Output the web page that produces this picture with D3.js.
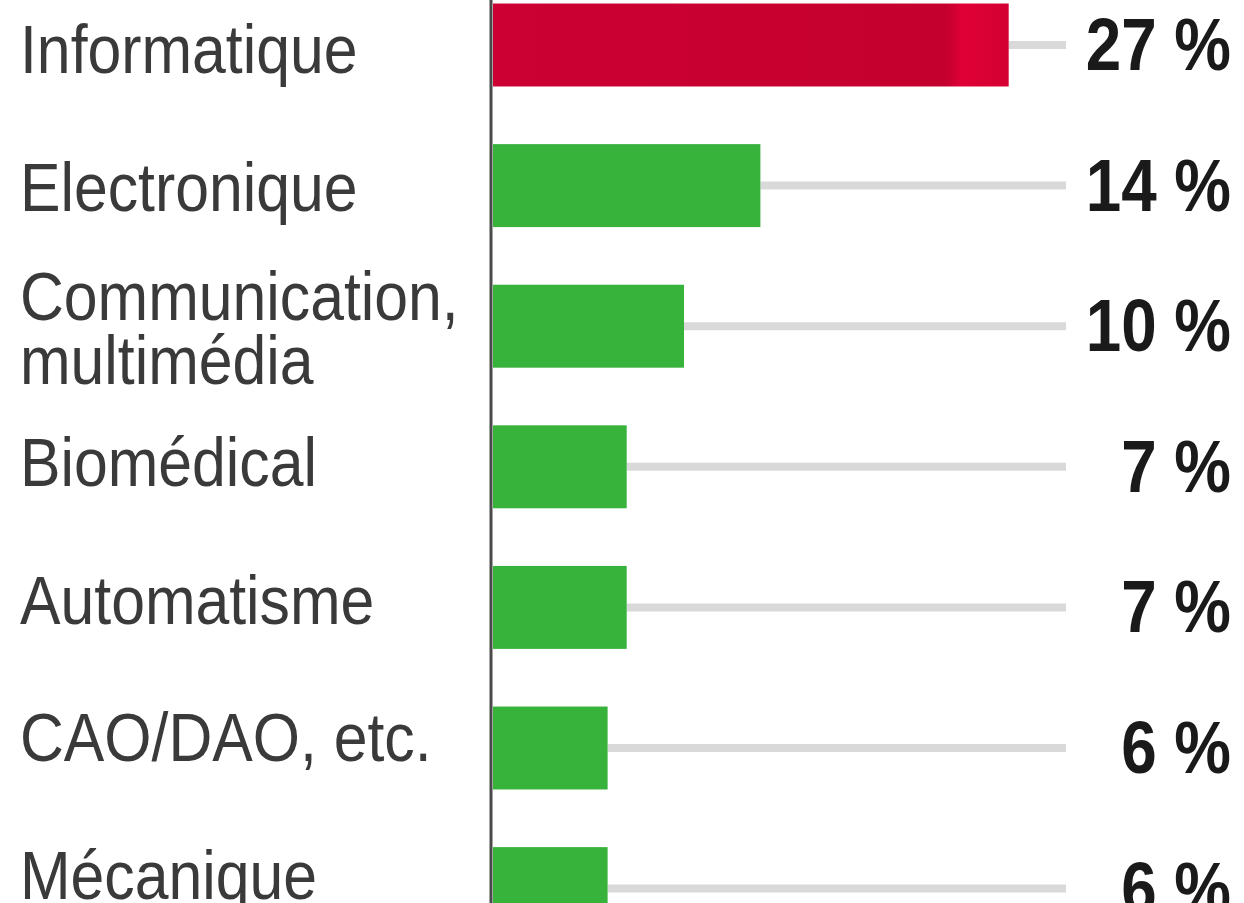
<!DOCTYPE html>
<html>
<head>
<meta charset="utf-8">
<script src="https://cdn.jsdelivr.net/npm/d3@7"></script>
<style>
  html, body { margin: 0; padding: 0; background: #ffffff; }
  svg { display: block; }
</style>
</head>
<body>
<svg id="chart" width="1244" height="903"></svg>
<script>
// Secteurs d'activité (part en %)
const categories = [
  ["Informatique"],
  ["Electronique"],
  ["Communication,", "multimédia"],
  ["Biomédical"],
  ["Automatisme"],
  ["CAO/DAO, etc."],
  ["Mécanique"]
];
const values = [27, 14, 10, 7, 7, 6, 6];
const valueLabels = ["27 %", "14 %", "10 %", "7 %", "7 %", "6 %", "6 %"];
const highlighted = [true, false, false, false, false, false, false];

const W = 1244, H = 903;
const svg = d3.select("#chart");
const FONT = "'Liberation Sans', Arial, Helvetica, sans-serif";

const keys = categories.map(d => d.join(" "));

const x = d3.scaleLinear().domain([0, 30]).range([493, 1066]);
const y = d3.scaleBand()
  .domain(keys)
  .range([-25.3, 958.9])
  .paddingInner(0.41)
  .paddingOuter(0.205);
// single-line captions sit on a slightly tighter pitch than the bars
const yLabel = d3.scalePoint().domain(keys).range([47, 873]);

const defs = svg.append("defs");
const grad = defs.append("linearGradient").attr("id", "redShade")
  .attr("x1", "0%").attr("x2", "100%").attr("y1", "0%").attr("y2", "0%");
grad.append("stop").attr("offset", "0%").attr("stop-color", "#cc0033");
grad.append("stop").attr("offset", "88%").attr("stop-color", "#c4002e");
grad.append("stop").attr("offset", "91%").attr("stop-color", "#e00036");
grad.append("stop").attr("offset", "100%").attr("stop-color", "#d40032");

const rows = svg.append("g").selectAll("g")
  .data(values.map((v, i) => ({ v, i, key: keys[i] })))
  .join("g");

const mid = d => y(d.key) + y.bandwidth() / 2;

// guide line from the bar end to the right edge of the scale
rows.append("line")
  .attr("x1", d => x(d.v))
  .attr("x2", x(30))
  .attr("y1", mid)
  .attr("y2", mid)
  .attr("stroke", "#d9d9d9")
  .attr("stroke-width", 8);

rows.append("rect")
  .attr("x", x(0))
  .attr("y", d => y(d.key))
  .attr("width", d => x(d.v) - x(0))
  .attr("height", y.bandwidth())
  .attr("fill", d => highlighted[d.i] ? "url(#redShade)" : "#37b23b");

// category labels (condensed by a horizontal scale)
rows.append("text")
  .attr("transform", d => {
    const cy = categories[d.i].length > 1 ? mid(d) : yLabel(d.key);
    return `translate(20,${cy}) scale(0.88,1)`;
  })
  .attr("font-family", FONT)
  .attr("font-size", 69)
  .attr("fill", "#3a3a3a")
  .each(function(d) {
    const lines = categories[d.i];
    const lh = 64;
    const off = -(lines.length - 1) * lh / 2;
    d3.select(this).selectAll("tspan")
      .data(lines)
      .join("tspan")
      .attr("x", 0)
      .attr("dy", (t, j) => j === 0 ? off + 26 : lh)
      .text(t => t);
  });

// value labels
rows.append("text")
  .attr("transform", d => `translate(1231,${mid(d) + 25}) scale(0.85,1)`)
  .attr("text-anchor", "end")
  .attr("font-family", FONT)
  .attr("font-weight", "bold")
  .attr("font-size", 75)
  .attr("fill", "#1a1a1a")
  .text(d => valueLabels[d.i]);

// vertical axis
const axis = d3.axisLeft(y).tickSize(0).tickFormat("");
svg.append("g")
  .attr("transform", `translate(${x(0) - 2},0)`)
  .call(axis)
  .call(g => g.select(".domain").attr("stroke", "#4a4a4a").attr("stroke-width", 3)
    .attr("d", `M0,0V${H}`));
</script>
</body>
</html>
